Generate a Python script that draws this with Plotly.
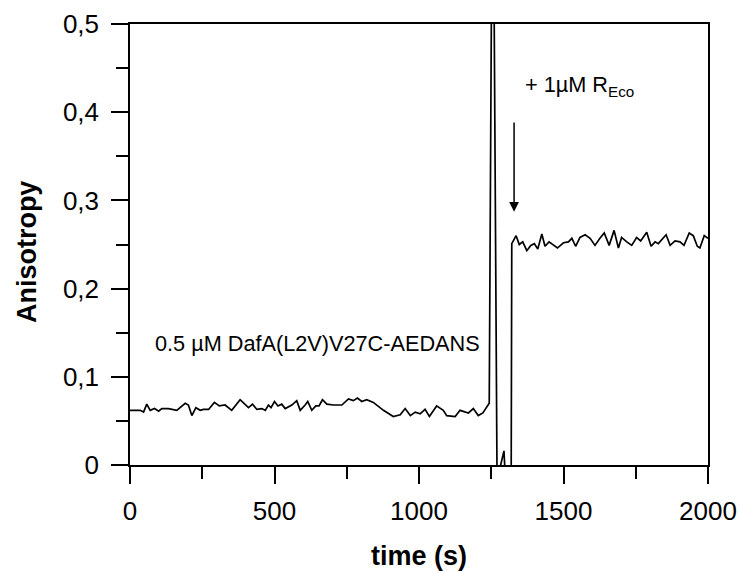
import plotly.graph_objects as go

# time (s) and anisotropy values
t_pre = [0, 35, 47, 58, 70, 85, 99, 110, 133, 162, 191, 202, 214, 228, 243, 254, 272, 292, 309, 329,
         352, 381, 410, 424, 439, 456, 468, 479, 488, 500, 512, 525, 537, 560, 577, 589, 606, 615, 629, 643,
         654, 666, 681, 704, 733, 756, 773, 787, 802, 819, 842, 877, 911, 935, 952, 970, 987, 1004, 1021, 1036,
         1061, 1084, 1096, 1125, 1142, 1171, 1188, 1205, 1221, 1243]
a_pre = [0.062, 0.062, 0.060, 0.069, 0.062, 0.064, 0.061, 0.064, 0.064, 0.062, 0.070, 0.068, 0.056, 0.065, 0.062, 0.063, 0.063, 0.071, 0.067, 0.068,
         0.062, 0.074, 0.065, 0.069, 0.063, 0.064, 0.062, 0.068, 0.065, 0.072, 0.067, 0.069, 0.064, 0.068, 0.073, 0.062, 0.068, 0.072, 0.062, 0.067,
         0.067, 0.074, 0.069, 0.068, 0.068, 0.075, 0.073, 0.076, 0.072, 0.074, 0.071, 0.062, 0.055, 0.057, 0.064, 0.056, 0.060, 0.058, 0.063, 0.055,
         0.067, 0.062, 0.056, 0.055, 0.062, 0.059, 0.064, 0.056, 0.059, 0.070]
t_mix = [1255, 1272, 1279, 1294, 1298, 1319]
a_mix = [0.78, -0.12, -0.005, 0.016, -0.01, -0.01]
t_post = [1321, 1336, 1347, 1359, 1373, 1387, 1399, 1411, 1425, 1436, 1450, 1465, 1479, 1500, 1517, 1529, 1542, 1557, 1575, 1592,
          1609, 1626, 1641, 1658, 1675, 1690, 1701, 1719, 1736, 1753, 1767, 1788, 1803, 1817, 1828, 1855, 1869, 1886, 1903, 1917,
          1935, 1949, 1963, 1972, 1987, 2000]
a_post = [0.251, 0.260, 0.250, 0.253, 0.243, 0.249, 0.251, 0.245, 0.262, 0.248, 0.253, 0.249, 0.246, 0.252, 0.253, 0.257, 0.248, 0.258, 0.261, 0.257,
          0.249, 0.257, 0.263, 0.249, 0.266, 0.246, 0.258, 0.253, 0.249, 0.258, 0.254, 0.264, 0.248, 0.253, 0.251, 0.261, 0.249, 0.254, 0.253, 0.249,
          0.263, 0.260, 0.248, 0.246, 0.260, 0.257]

x_ticks = [0, 500, 1000, 1500, 2000]
x_labels = ["0", "500", "1000", "1500", "2000"]
y_ticks = [0, 0.1, 0.2, 0.3, 0.4, 0.5]
y_labels = ["0", "0,1", "0,2", "0,3", "0,4", "0,5"]

x_title = "time (s)"
y_title = "Anisotropy"
label_sample = "0.5 µM DafA(L2V)V27C-AEDANS"
label_add = "+ 1µM R<sub>Eco</sub>"
add_time = 1329
arrow_from, arrow_to = 0.39, 0.287

FONT = "Liberation Sans, Arial, sans-serif"

fig = go.Figure()
fig.add_trace(go.Scatter(
    x=t_pre + t_mix + t_post, y=a_pre + a_mix + a_post, mode="lines",
    line=dict(color="black", width=1.7), showlegend=False))

axis_common = dict(showline=True, linecolor="black", linewidth=1.5, mirror=True,
                   ticks="outside", ticklen=17, tickwidth=1.5, tickcolor="black",
                   showgrid=False, zeroline=False, automargin=False,
                   tickfont=dict(family=FONT, size=26, color="black"))

fig.update_xaxes(range=[0, 2000], tickvals=x_ticks, ticktext=x_labels,
                 minor=dict(dtick=250, ticks="outside", ticklen=12, tickwidth=1.5, tickcolor="black"),
                 ticklabelstandoff=5, **axis_common)
fig.update_yaxes(range=[0, 0.5], tickvals=y_ticks, ticktext=y_labels,
                 minor=dict(dtick=0.05, ticks="outside", ticklen=12, tickwidth=1.5, tickcolor="black"),
                 ticklabelstandoff=7, **axis_common)

# axis titles
fig.add_annotation(x=0.5, y=-0.206, xref="paper", yref="paper", text="<b>" + x_title + "</b>",
                   showarrow=False, xanchor="center", yanchor="middle",
                   font=dict(family=FONT, size=27, color="black"))
fig.add_annotation(x=-0.178, y=0.483, xref="paper", yref="paper", text="<b>" + y_title + "</b>",
                   showarrow=False, textangle=-90, xanchor="center", yanchor="middle",
                   font=dict(family=FONT, size=27, color="black"))

fig.add_annotation(x=80, y=0.138, xref="x", yref="y", text=label_sample, showarrow=False,
                   xanchor="left", yanchor="middle", font=dict(family=FONT, size=21.7, color="black"))
fig.add_annotation(x=1360, y=0.43, xref="x", yref="y", text=label_add, showarrow=False,
                   xanchor="left", yanchor="middle", font=dict(family=FONT, size=21.7, color="black"))
fig.add_annotation(x=add_time, y=arrow_to, ax=add_time, ay=arrow_from, xref="x", yref="y",
                   axref="x", ayref="y", text="", showarrow=True, arrowhead=2, arrowsize=1.3,
                   arrowwidth=1.5, arrowcolor="black")

fig.update_layout(width=739, height=571, margin=dict(l=130, r=31, t=24, b=106),
                  plot_bgcolor="white", paper_bgcolor="white",
                  font=dict(family=FONT, color="black"))

fig.write_html("out.html")
